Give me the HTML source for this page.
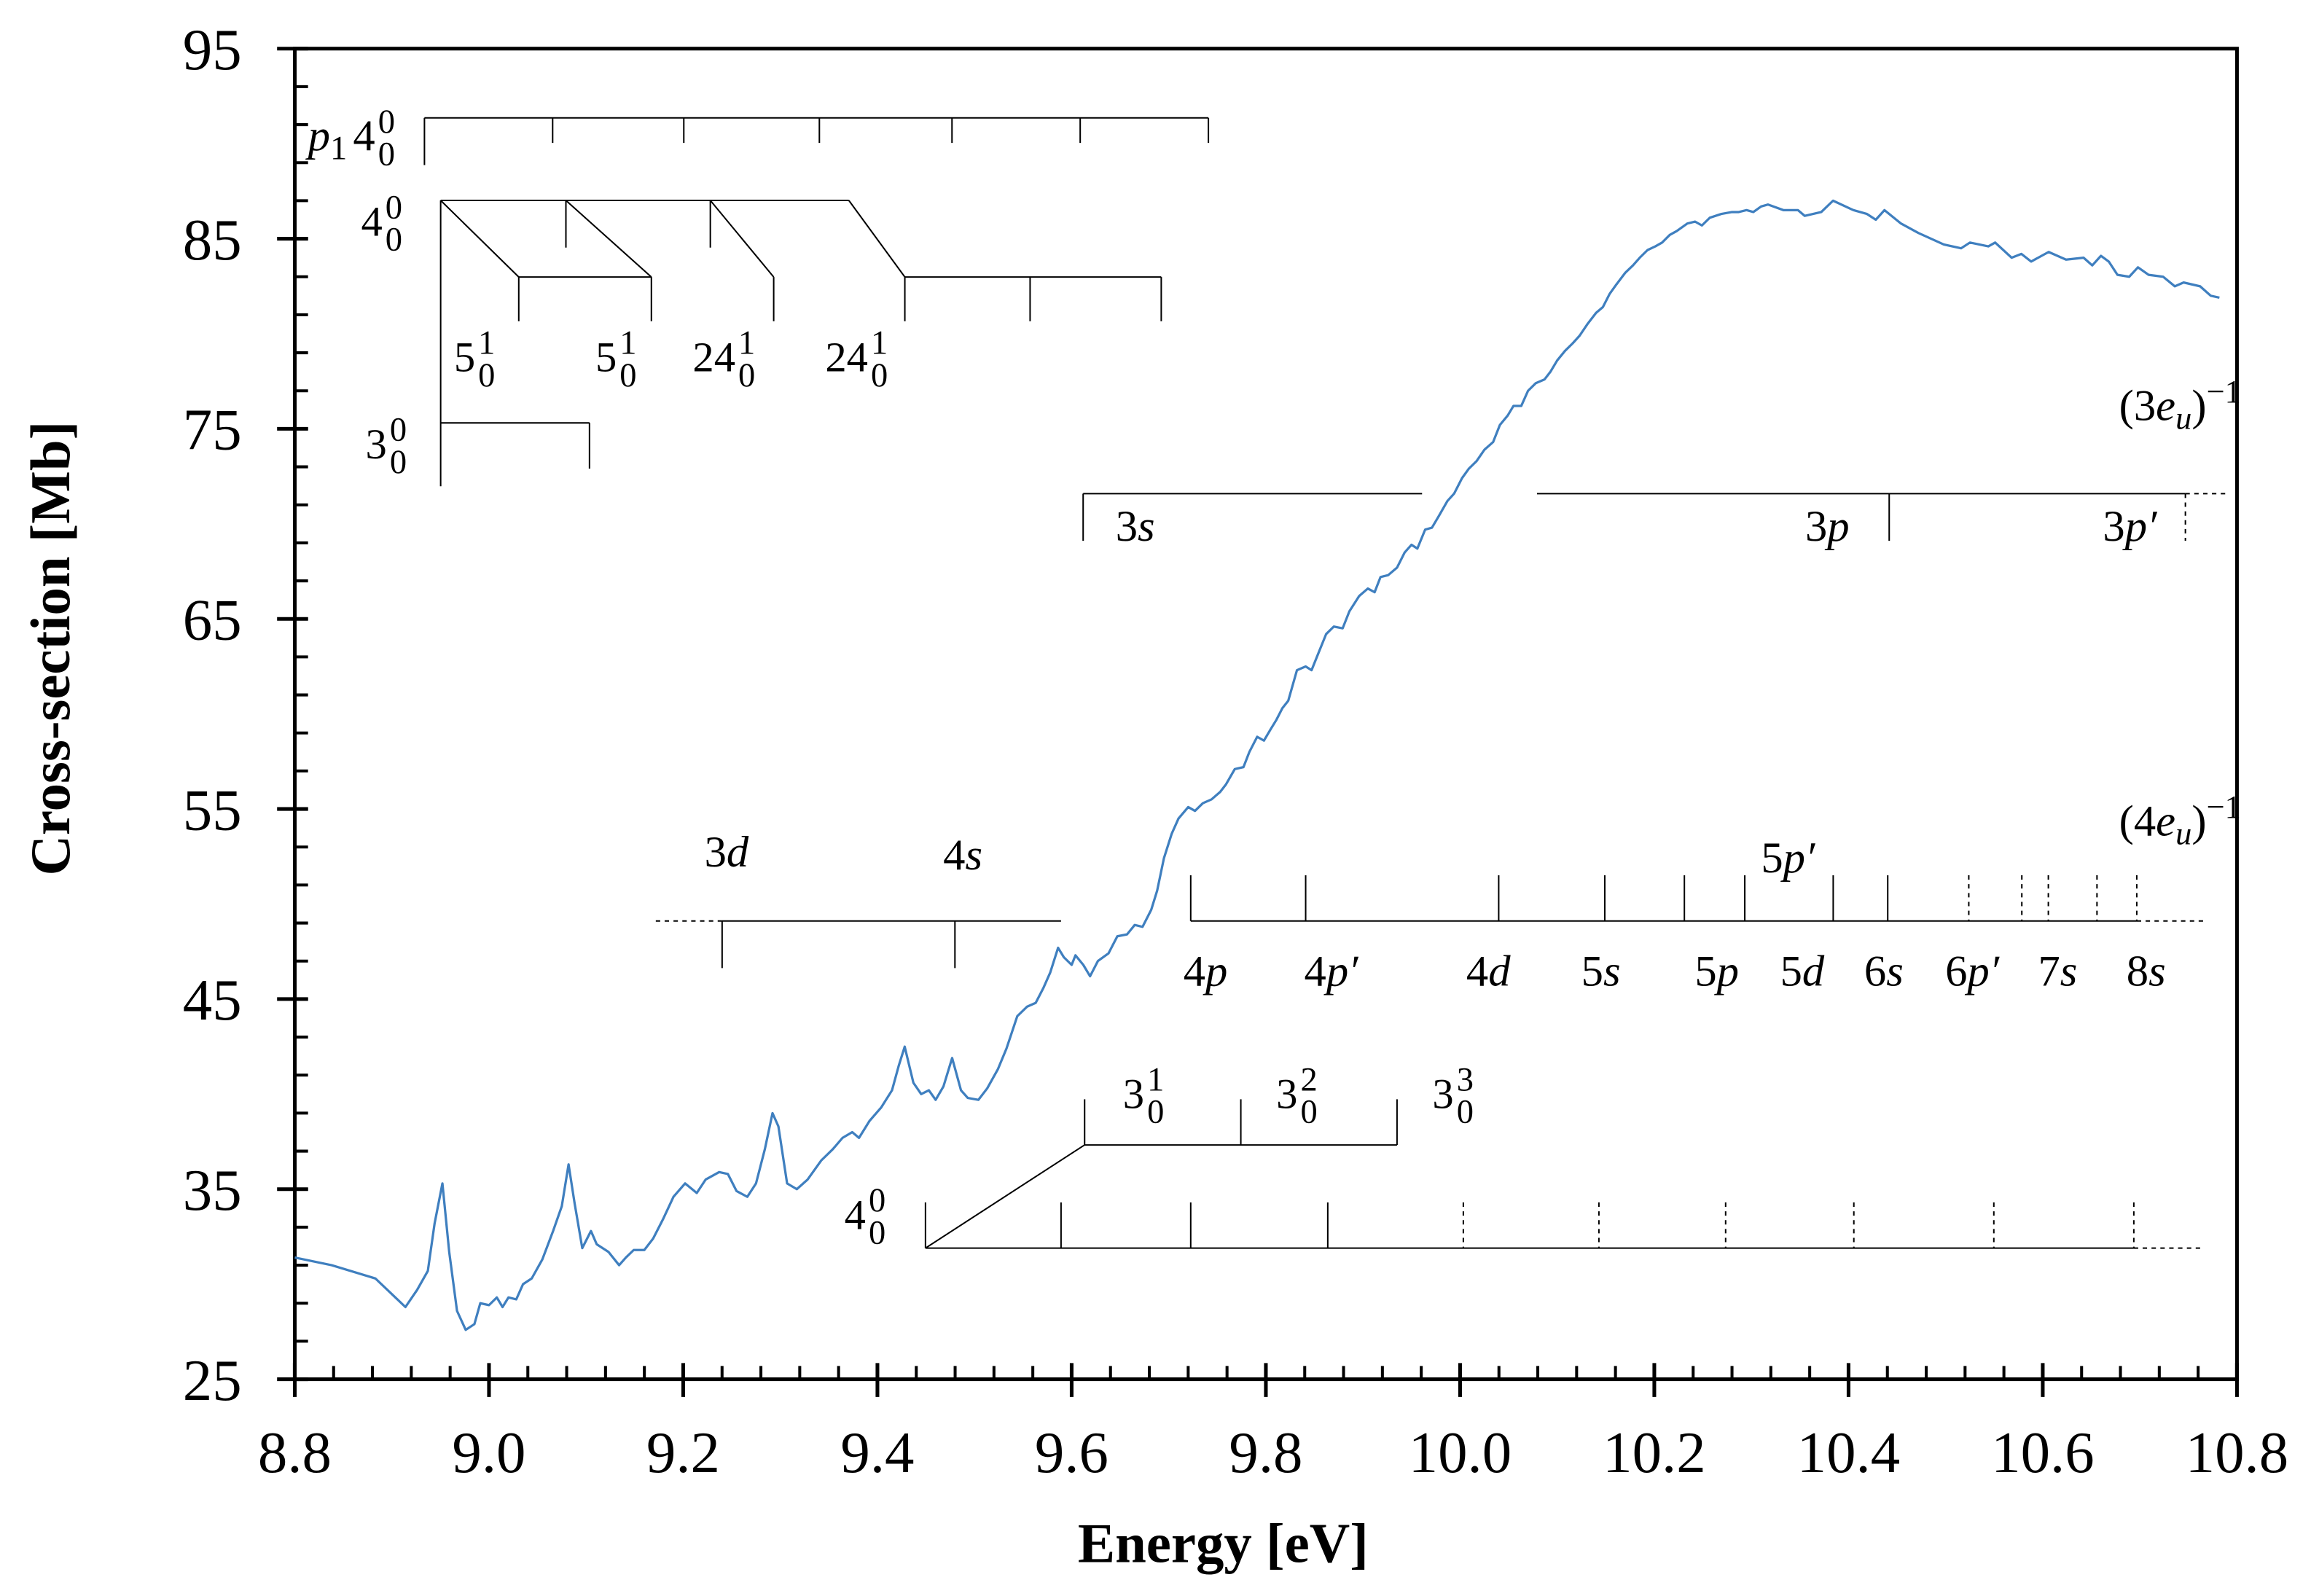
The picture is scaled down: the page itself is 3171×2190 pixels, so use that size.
<!DOCTYPE html>
<html><head><meta charset="utf-8"><style>
html,body{margin:0;padding:0;background:#fff}
svg{display:block}
text{font-family:"Liberation Serif",serif;fill:#000}
</style></head><body>
<svg id="chart" xmlns="http://www.w3.org/2000/svg" width="3171" height="2190" viewBox="0 0 1568.2 1083.1">
<g id="axes"></g>
<g id="annot" stroke="#000" stroke-width="1" fill="none"></g>
<g id="labels"></g>
<g id="series"></g>
</svg>
<script>
const energies=[8.800,8.838,8.883,8.914,8.926,8.937,8.944,8.952,8.959,8.967,8.976,8.985,8.991,9.000,9.008,9.014,9.020,9.028,9.035,9.044,9.055,9.066,9.075,9.082,9.088,9.096,9.105,9.111,9.123,9.134,9.141,9.149,9.160,9.169,9.179,9.190,9.202,9.214,9.223,9.237,9.246,9.255,9.266,9.275,9.284,9.292,9.298,9.307,9.317,9.328,9.342,9.354,9.364,9.374,9.381,9.392,9.404,9.415,9.422,9.428,9.437,9.445,9.453,9.460,9.468,9.477,9.486,9.493,9.504,9.513,9.524,9.533,9.544,9.554,9.563,9.571,9.578,9.586,9.592,9.600,9.604,9.612,9.619,9.627,9.638,9.647,9.657,9.665,9.673,9.682,9.688,9.695,9.703,9.710,9.720,9.727,9.735,9.744,9.753,9.759,9.768,9.777,9.783,9.791,9.798,9.805,9.811,9.817,9.823,9.832,9.841,9.847,9.855,9.862,9.870,9.879,9.886,9.896,9.905,9.912,9.918,9.926,9.935,9.943,9.950,9.956,9.964,9.971,9.978,9.987,9.994,10.002,10.009,10.017,10.025,10.034,10.041,10.049,10.055,10.063,10.070,10.078,10.087,10.093,10.100,10.108,10.116,10.123,10.131,10.140,10.147,10.154,10.161,10.170,10.178,10.185,10.193,10.201,10.208,10.216,10.223,10.234,10.242,10.249,10.257,10.269,10.280,10.287,10.295,10.302,10.310,10.317,10.333,10.348,10.355,10.372,10.384,10.405,10.419,10.428,10.437,10.454,10.472,10.498,10.516,10.525,10.544,10.551,10.568,10.578,10.588,10.606,10.624,10.642,10.651,10.660,10.668,10.677,10.689,10.698,10.709,10.724,10.736,10.745,10.762,10.773,10.782];
const crossSection=[31.4,31.0,30.3,28.8,29.7,30.7,33.2,35.3,31.7,28.6,27.6,27.9,29.0,28.9,29.3,28.8,29.3,29.2,30.0,30.3,31.3,32.8,34.1,36.3,34.3,31.9,32.8,32.1,31.7,31.0,31.4,31.8,31.8,32.4,33.4,34.6,35.3,34.8,35.5,35.9,35.8,34.9,34.6,35.3,37.1,39.0,38.3,35.3,35.0,35.5,36.5,37.1,37.7,38.0,37.7,38.6,39.3,40.2,41.5,42.5,40.6,40.0,40.2,39.7,40.4,41.9,40.2,39.8,39.7,40.3,41.3,42.4,44.1,44.6,44.8,45.6,46.4,47.7,47.2,46.8,47.3,46.8,46.2,47.0,47.4,48.3,48.4,48.9,48.8,49.7,50.7,52.4,53.7,54.5,55.1,54.9,55.3,55.5,55.9,56.3,57.1,57.2,58.0,58.8,58.6,59.2,59.7,60.3,60.7,62.3,62.5,62.3,63.3,64.2,64.6,64.5,65.4,66.2,66.6,66.4,67.2,67.3,67.7,68.5,68.9,68.7,69.7,69.8,70.4,71.2,71.6,72.4,72.9,73.3,73.9,74.3,75.2,75.7,76.2,76.2,77.0,77.4,77.6,78.0,78.6,79.1,79.5,79.9,80.5,81.1,81.4,82.1,82.6,83.2,83.6,84.0,84.4,84.6,84.8,85.2,85.4,85.8,85.9,85.7,86.1,86.3,86.4,86.4,86.5,86.4,86.7,86.8,86.5,86.5,86.2,86.4,87.0,86.5,86.3,86.0,86.5,85.8,85.3,84.7,84.5,84.8,84.6,84.8,84.0,84.2,83.8,84.3,83.9,84.0,83.6,84.1,83.8,83.1,83.0,83.5,83.1,83.0,82.5,82.7,82.5,82.0,81.9];
const xTicks=["8.8","9.0","9.2","9.4","9.6","9.8","10.0","10.2","10.4","10.6","10.8"];
const yTicks=["25","35","45","55","65","75","85","95"];

const NS="http://www.w3.org/2000/svg";
const X0=200,X1=1518,Y0=936,Y1=33,EMIN=8.8,EMAX=10.8,VMIN=25,VMAX=95;
const sx=e=>X0+(e-EMIN)/(EMAX-EMIN)*(X1-X0);
const sy=v=>Y0-(v-VMIN)/(VMAX-VMIN)*(Y0-Y1);
function mk(tag,attrs,parent){const el=document.createElementNS(NS,tag);for(const k in attrs)el.setAttribute(k,attrs[k]);parent.appendChild(el);return el;}

const axes=document.getElementById('axes');
const frame=mk('rect',{x:X0,y:Y1,width:X1-X0,height:Y0-Y1,fill:'none',stroke:'#000','stroke-width':2.5},axes);


for(let v=VMIN;v<=VMAX;v+=2){
  const t=mk('line',{x1:X0,x2:X0+9,y1:sy(v),y2:sy(v),stroke:'#000','stroke-width':2},axes);
  
  
}
yTicks.forEach(s=>{
  const v=parseFloat(s);
  const t=mk('line',{x1:X0-12,x2:X0+9,y1:sy(v),y2:sy(v),stroke:'#000','stroke-width':2.5},axes);
  
  
  const l=mk('text',{x:164,y:sy(v)+14,'text-anchor':'end','font-size':40},axes);
  l.textContent=s;
  
  
});
for(let i=0;i<=50;i++){
  const e=EMIN+i*0.04;
  const t=mk('line',{x1:sx(e),x2:sx(e),y1:Y0-9,y2:Y0,stroke:'#000','stroke-width':2},axes);
  
  
}
xTicks.forEach(s=>{
  const e=parseFloat(s);
  const t=mk('line',{x1:sx(e),x2:sx(e),y1:Y0-11,y2:Y0+12,stroke:'#000','stroke-width':2.5},axes);
  
  
  const l=mk('text',{x:sx(e),y:999,'text-anchor':'middle','font-size':40},axes);
  l.textContent=s;
  
  
});
const xt=mk('text',{x:830,y:1060,'text-anchor':'middle','font-size':38,'font-weight':'bold'},axes);
xt.textContent='Energy [eV]';


const yt=mk('text',{x:0,y:0,'text-anchor':'middle','font-size':38,'font-weight':'bold',transform:'translate(47,440) rotate(-90)'},axes);
yt.textContent='Cross-section [Mb]';



const series=document.getElementById('series');
const d=energies.map((e,i)=>(i?'L':'M')+sx(e).toFixed(1)+','+sy(crossSection[i]).toFixed(1)).join(' ');
const path=mk('path',{d:d,fill:'none',stroke:'#3f7fbf','stroke-width':1.6,'stroke-linejoin':'round'},series);



const an=document.getElementById('annot');
function L(x1,y1,x2,y2,dash){const l=mk('line',{x1,y1,x2,y2},an);if(dash)l.setAttribute('stroke-dasharray','3,3');return l;}
L(288,80,820,80);L(288,80,288,112);[375,464,556,646,733].forEach(x=>L(x,80,x,97));L(820,80,820,97);
L(299,136,576,136);L(299,136,299,330);L(384,136,384,168);L(482,136,482,168);
L(299,136,352,188);L(384,136,442,188);L(482,136,525,188);L(576,136,614,188);
L(352,188,442,188);L(352,188,352,218);L(442,188,442,218);L(525,188,525,218);
L(614,188,788,188);[614,699,788].forEach(x=>L(x,188,x,218));
L(299,287,400,287);L(400,287,400,318);
L(735,335,965,335);L(735,335,735,367);
L(1043,335,1483,335);L(1282,335,1282,367);L(1483,335,1510,335,1);L(1483,335,1483,367,1);
L(808,625,1450,625);L(1450,625,1497,625,1);
[808,886,1017,1089,1143,1184,1244,1281].forEach(x=>L(x,594,x,625));
[1336,1372,1390,1423,1450].forEach(x=>L(x,594,x,625,1));
L(445,625,490,625,1);L(490,625,720,625);L(490,625,490,657);L(648,625,648,657);
L(628,847,1448,847);L(1448,847,1493,847,1);
[628,720,808,901].forEach(x=>L(x,816,x,847));
[993,1085,1171,1258,1353,1448].forEach(x=>L(x,816,x,847,1));
L(628,847,736,777);L(736,777,948,777);[736,842,948].forEach(x=>L(x,746,x,777));

const lb=document.getElementById('labels');
function T(x,y,base,sup,sub,name){
  const t=mk('text',{x:x,y:y,'font-size':29},lb);
  
  
  const b=mk('tspan',{},t);b.textContent=base;
  const w=sup.length*11.5;
  const s1=mk('tspan',{'font-size':23,dx:2,dy:-12},t);s1.textContent=sup;
  const s2=mk('tspan',{'font-size':23,dx:-w,dy:22},t);s2.textContent=sub;
  return t;
}
function I(x,y,num,letter,name,prime){
  const t=mk('text',{x:x,y:y,'font-size':30},lb);
  
  
  const a=mk('tspan',{},t);a.textContent=num;
  const b=mk('tspan',{'font-style':'italic'},t);b.textContent=letter+(prime?'′':'');
  return t;
}
(function(){const t=mk('text',{x:209,y:102,'font-size':30},lb);


const a=mk('tspan',{'font-style':'italic'},t);a.textContent='p';
const b=mk('tspan',{'font-size':23,dy:6},t);b.textContent='1';
const c=mk('tspan',{dx:4,dy:-6},t);c.textContent='4';
const d1=mk('tspan',{'font-size':23,dx:2,dy:-12},t);d1.textContent='0';
const e1=mk('tspan',{'font-size':23,dx:-11.5,dy:22},t);e1.textContent='0';})();
T(245,160,'4','0','0','4-0-0-label-top');
T(308,252,'5','1','0','5-0-1-label-a');
T(404,252,'5','1','0','5-0-1-label-b');
T(470,252,'24','1','0','24-0-1-label-a');
T(560,252,'24','1','0','24-0-1-label-b');
T(248,311,'3','0','0','3-0-0-label');
I(757,367,'3','s','3s-label');
I(1225,367,'3','p','3p-label');
I(1427,367,'3','p','3p-prime-label',1);
I(478,588,'3','d','3d-label');
I(640,590,'4','s','4s-label');
I(1195,592,'5','p','5p-prime-label',1);
[['4','p',803,0],['4','p',885,1],['4','d',995,0],['5','s',1073,0],['5','p',1150,0],['5','d',1208,0],['6','s',1265,0],['6','p',1320,1],['7','s',1383,0],['8','s',1443,0]].forEach(r=>{
  I(r[2],669,r[0],r[1],'rydberg-'+r[0]+r[1]+(r[3]?'-prime':'')+'-label',r[3]);
});
T(762,752,'3','1','0','3-0-1-label');
T(866,752,'3','2','0','3-0-2-label');
T(972,752,'3','3','0','3-0-3-label');
T(573,834,'4','0','0','4-0-0-label-bottom');
function ion(y,num,name){
  const t=mk('text',{x:1438,y:y,'font-size':30},lb);
  
  
  const a=mk('tspan',{},t);a.textContent='('+num;
  const b=mk('tspan',{'font-style':'italic'},t);b.textContent='e';
  const c=mk('tspan',{'font-style':'italic','font-size':22,dy:6},t);c.textContent='u';
  const d2=mk('tspan',{dy:-6},t);d2.textContent=')';
  const e2=mk('tspan',{'font-size':22,dy:-12},t);e2.textContent='−1';
}
ion(285,'3','ionization-3eu-label');
ion(567,'4','ionization-4eu-label');
</script>
</body></html>
